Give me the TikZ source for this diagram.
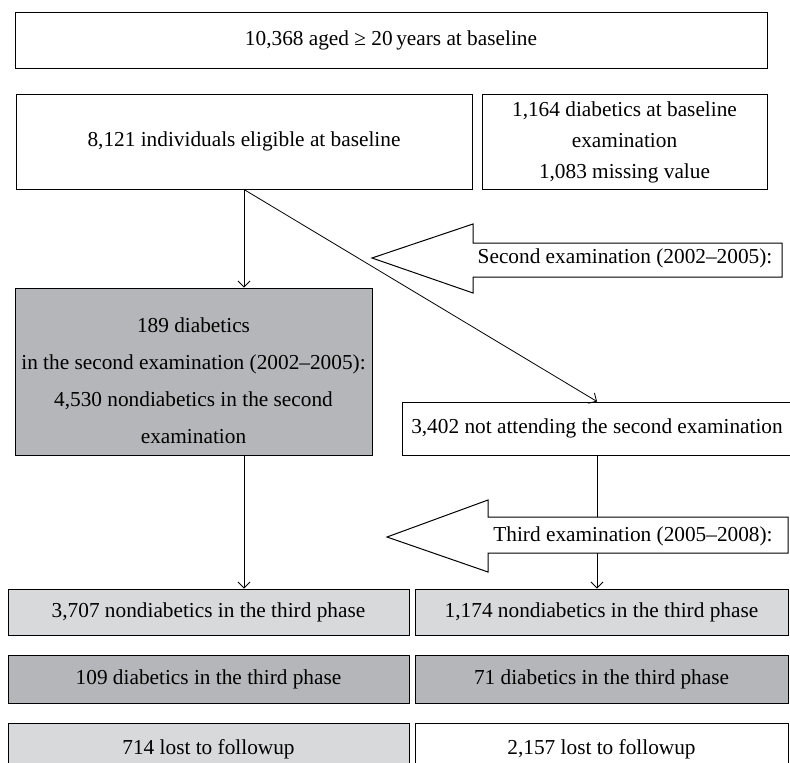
\documentclass[tikz,border=0pt]{standalone}
\usepackage{fontspec}
\setmainfont{Liberation Serif}
\usetikzlibrary{arrows.meta}
\definecolor{darkfill}{RGB}{180,182,185}
\definecolor{lightfill}{RGB}{216,217,219}

\begin{document}
\begin{tikzpicture}[x=1pt, y=-1pt,
        box/.style={draw, line width=1pt, inner sep=0pt, align=center,
            font=\fontsize{21.3}{31}\selectfont},
        darkbox/.style={box, fill=darkfill},
        lightbox/.style={box, fill=lightfill},
        flow/.style={line width=0.8pt, -{Straight Barb[length=6pt, width=12pt]}},
        bigarrow/.style={draw, line width=1pt, fill=white},
        arrowtext/.style={font=\fontsize{21.3}{31}\selectfont, inner sep=0pt}]
    \useasboundingbox (0,0) rectangle (790,763);
    % boxes
    \node[box, minimum width=752pt, minimum height=56pt] (all) at (391,40)
        {10,368 aged ≥ 20\,years at baseline};
    \node[box, minimum width=456pt, minimum height=95pt] (elig) at (244,141.5)
        {8,121 individuals eligible at baseline};
    \node[box, minimum width=285pt, minimum height=95pt] (dbase) at (624.5,142)
        {1,164 diabetics at baseline\\ examination\\ 1,083 missing value};
    \node[darkbox, minimum width=357pt, minimum height=167pt] (sec) at (193.5,371.5) {};
    \node[arrowtext, align=center, font=\fontsize{21.3}{37}\selectfont] (sectext) at ([yshift=-9pt]sec.center)
        {189 diabetics\\ in the second examination (2002–2005):\\ 4,530 nondiabetics in the second\\ examination};
    \node[box, minimum width=390pt, minimum height=53pt] (notatt) at (597,428.5)
        {3,402 not attending the second examination};
    \node[lightbox, minimum width=401pt, minimum height=46pt] (ndl) at (208.5,612)
        {3,707 nondiabetics in the third phase};
    \node[lightbox, minimum width=373pt, minimum height=46pt] (ndr) at (601.5,612)
        {1,174 nondiabetics in the third phase};
    \node[darkbox, minimum width=401pt, minimum height=48pt] (dml) at (208.5,679)
        {109 diabetics in the third phase};
    \node[darkbox, minimum width=373pt, minimum height=48pt] (dmr) at (601.5,679)
        {71 diabetics in the third phase};
    \node[lightbox, minimum width=401pt, minimum height=52pt] (lostl) at (208.5,749)
        {714 lost to followup};
    \node[box, minimum width=373pt, minimum height=52pt] (lostr) at (601.5,749)
        {2,157 lost to followup};
    % connectors
    \draw[flow] (elig.south) -- (elig.south |- sec.north);
    \draw[flow] (elig.south) -- (notatt.north);
    \draw[flow] (sec.south -| elig.south) -- (ndl.north -| elig.south);
    \draw[flow] (notatt.south) -- (notatt.south |- ndr.north);
    % block arrows
    \draw[bigarrow] (782,243) -- (473,243) -- (473,224) -- (372,258) -- (473,293)
        -- (473,277) -- (782,277) -- cycle;
    \node[arrowtext] (secexam) at (625,258) {Second examination (2002–2005):};
    \draw[bigarrow] (788,517) -- (488,517) -- (488,500) -- (387,537) -- (488,572)
        -- (488,553) -- (788,553) -- cycle;
    \node[arrowtext] (thirdexam) at (633,536) {Third examination (2005–2008):};
\end{tikzpicture}
\end{document}
